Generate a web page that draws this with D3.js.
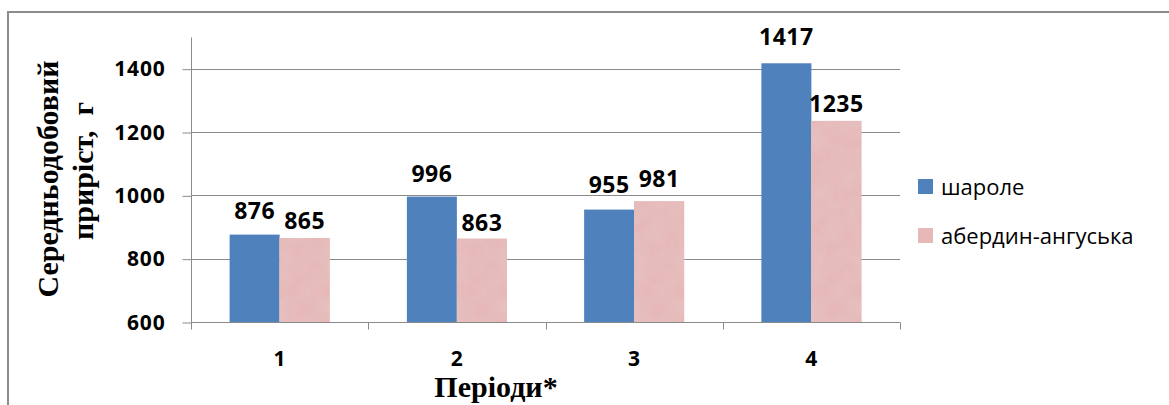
<!DOCTYPE html>
<html>
<head>
<meta charset="utf-8">
<script src="https://cdn.jsdelivr.net/npm/d3@7"></script>
<style>
  html, body { margin: 0; padding: 0; background: #fff; }
  svg { display: block; }
</style>
</head>
<body>
<svg id="chart" width="1169" height="405"></svg>
<script>
// Періоди та середньодобовий приріст (г) для двох порід
const periods = ["1", "2", "3", "4"];
const seriesNames = ["шароле", "абердин-ангуська"];
const sharole = [876, 996, 955, 1417];
const aberdeenAngus = [865, 863, 981, 1235];
const yTicks = [600, 800, 1000, 1200, 1400];

// Підйом підписів над стовпцями (px), як їх розміщено на діаграмі
const labelLift = [
  [16, 15, 17, 18],
  [9, 8, 14, 9]
];

const seriesValues = [sharole, aberdeenAngus];
const colors = ["#4F81BD", "#E6B9B8"];

const svg = d3.select("#chart");
const sans = "'Open Sans', 'Noto Sans', sans-serif";
const serif = "'Liberation Serif', 'DejaVu Serif', serif";
const gridColor = "#8a8a8a";

// Рамка області діаграми
svg.append("rect")
  .attr("x", 8).attr("y", 12)
  .attr("width", 1200).attr("height", 420)
  .attr("fill", "none")
  .attr("stroke", "#8c8c8c")
  .attr("stroke-width", 2);

// Текстура для рожевих стовпців
const defs = svg.append("defs");
const f = defs.append("filter").attr("id", "tissue")
  .attr("x", 0).attr("y", 0).attr("width", 1).attr("height", 1);
f.append("feTurbulence").attr("type", "fractalNoise")
  .attr("baseFrequency", 0.06).attr("numOctaves", 3).attr("seed", 4)
  .attr("result", "noise");
f.append("feColorMatrix").attr("in", "noise").attr("type", "matrix")
  .attr("values", "0 0 0 0 0.80  0 0 0 0 0.60  0 0 0 0 0.60  0.7 0 0 0 -0.22")
  .attr("result", "spots");
f.append("feComposite").attr("in", "spots").attr("in2", "SourceGraphic")
  .attr("operator", "atop").attr("result", "mix");
f.append("feMerge").call(m => {
  m.append("feMergeNode").attr("in", "SourceGraphic");
  m.append("feMergeNode").attr("in", "mix");
});

const plot = { left: 191, right: 900, top: 37, bottom: 322 };

const y = d3.scaleLinear().domain([600, 1500]).range([plot.bottom, plot.top]);
const x0 = d3.scaleBand().domain(periods).range([plot.left, plot.right])
  .paddingInner(0).paddingOuter(0);
const x1 = d3.scaleBand().domain(seriesNames).range([0, x0.bandwidth()])
  .paddingInner(0).paddingOuter(0.7725);

// Горизонтальні лінії сітки
svg.append("g")
  .selectAll("line")
  .data(yTicks)
  .join("line")
  .attr("x1", plot.left).attr("x2", plot.right)
  .attr("y1", d => Math.round(y(d)) + 0.5)
  .attr("y2", d => Math.round(y(d)) + 0.5)
  .attr("stroke", gridColor).attr("stroke-width", 1);

// Вісь Y
const yAxis = d3.axisLeft(y).tickValues(yTicks).tickSize(9).tickPadding(17)
  .tickFormat(d3.format("d"));
const gy = svg.append("g")
  .attr("transform", `translate(${plot.left + 0.5},0.5)`)
  .call(yAxis);
gy.select(".domain").remove();
gy.append("line").attr("x1", 0).attr("x2", 0)
  .attr("y1", plot.top).attr("y2", plot.bottom + 6)
  .attr("stroke", gridColor);
gy.selectAll(".tick line").attr("stroke", gridColor);
gy.selectAll(".tick text")
  .attr("fill", "#000")
  .style("font-family", sans).style("font-size", "21px").style("font-weight", 700)
  .style("letter-spacing", "0.8px");

// Вісь X
const gx = svg.append("g").attr("transform", `translate(0,${Math.round(plot.bottom) + 0.5})`);
gx.append("line").attr("x1", plot.left).attr("x2", plot.right)
  .attr("stroke", gridColor);
gx.selectAll("line.tk")
  .data(periods.map(p => x0(p)).concat([plot.right]))
  .join("line").attr("class", "tk")
  .attr("x1", d => Math.round(d) + 0.5).attr("x2", d => Math.round(d) + 0.5)
  .attr("y1", 0).attr("y2", 7)
  .attr("stroke", gridColor);
gx.selectAll("text")
  .data(periods)
  .join("text")
  .attr("x", d => x0(d) + x0.bandwidth() / 2)
  .attr("y", 43)
  .attr("text-anchor", "middle")
  .style("font-family", sans).style("font-size", "21px").style("font-weight", 700)
  .attr("fill", "#000")
  .text(d => d);

// Стовпці
const groups = svg.append("g").selectAll("g")
  .data(periods)
  .join("g")
  .attr("transform", d => `translate(${x0(d)},0)`);

groups.selectAll("rect")
  .data((p, i) => seriesNames.map((s, k) => ({ s, k, v: seriesValues[k][i] })))
  .join("rect")
  .attr("x", d => x1(d.s))
  .attr("width", x1.bandwidth())
  .attr("y", d => y(d.v))
  .attr("height", d => y(600) - y(d.v))
  .attr("fill", d => colors[d.k])
  .attr("filter", d => d.k === 1 ? "url(#tissue)" : null);

// Підписи значень
groups.selectAll("text")
  .data((p, i) => seriesNames.map((s, k) => ({ s, k, i, v: seriesValues[k][i] })))
  .join("text")
  .attr("x", d => x1(d.s) + x1.bandwidth() / 2)
  .attr("y", d => y(d.v) - labelLift[d.k][d.i])
  .attr("text-anchor", "middle")
  .style("font-family", sans).style("font-size", "23px").style("font-weight", 700)
  .style("letter-spacing", "0.5px")
  .attr("fill", "#000")
  .text(d => d.v);

// Назва осі Y (два рядки)
const yTitle = [
  { text: "Середньодобовий", x: 58, y: 179 },
  { text: "приріст,  г", x: 93, y: 171 }
];
svg.append("g").selectAll("text")
  .data(yTitle)
  .join("text")
  .attr("transform", d => `translate(${d.x},${d.y}) rotate(-90)`)
  .attr("text-anchor", "middle")
  .style("font-family", serif).style("font-size", "30px").style("font-weight", 700)
  .style("white-space", "pre")
  .attr("fill", "#000")
  .text(d => d.text);

// Назва осі X
svg.append("text")
  .attr("x", 496).attr("y", 397)
  .attr("text-anchor", "middle")
  .style("font-family", serif).style("font-size", "30px").style("font-weight", 700)
  .attr("fill", "#000")
  .text("Періоди*");

// Легенда
const legend = svg.append("g").selectAll("g")
  .data(seriesNames)
  .join("g")
  .attr("transform", (d, i) => `translate(918,${179 + i * 49})`);
legend.append("rect")
  .attr("width", 15).attr("height", 15)
  .attr("fill", (d, i) => colors[i]);
legend.append("text")
  .attr("x", 23).attr("y", 16)
  .style("font-family", sans).style("font-size", "22px")
  .attr("fill", "#000")
  .text(d => d);
</script>
</body>
</html>
